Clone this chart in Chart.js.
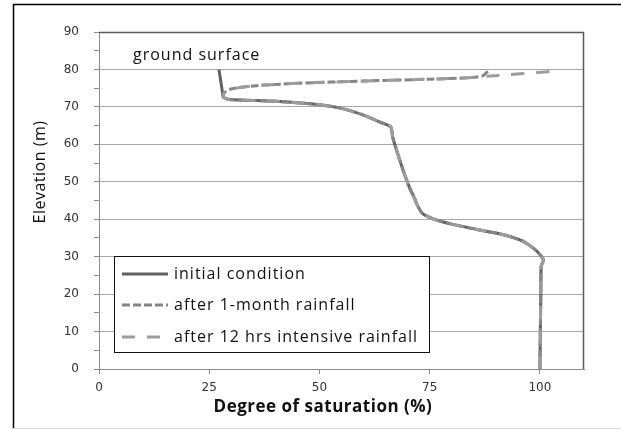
<!DOCTYPE html>
<html>
<head>
<meta charset="utf-8">
<script src="https://cdn.jsdelivr.net/npm/chart.js@4.4.1/dist/chart.umd.min.js"></script>
<style>
  html, body { margin: 0; padding: 0; background: #fff; }
  #wrap { width: 621px; height: 429px; }
</style>
</head>
<body>
<div id="wrap"><canvas id="satChart" width="621" height="429"></canvas></div>
<script>
// Saturation profiles (degree of saturation %, elevation m)
const initialSat  = [27.2, 27.6, 28.0, 28.2, 29.5, 40, 50, 55, 60, 64, 66.2, 66.6, 67.6, 69.0, 70.4, 71.6, 72.3, 73.4, 76, 80, 86, 92, 96, 98.8, 100.4, 100.8, 100.3, 100.2, 100.1, 100.0];
const initialElev = [80.0, 77.0, 74.0, 72.6, 72.0, 71.5, 70.6, 69.6, 67.8, 65.8, 64.6, 62.0, 58.0, 53.0, 48.5, 45.5, 43.5, 41.5, 40.0, 38.7, 37.2, 35.8, 34.2, 32.0, 30.0, 29.0, 27.5, 20.0, 10.0, 0.0];

const monthSat  = [100.0, 100.1, 100.2, 100.3, 100.8, 100.4, 98.8, 96, 92, 86, 80, 76, 73.4, 72.3, 71.6, 70.4, 69.0, 67.6, 66.6, 66.2, 64, 60, 55, 50, 40, 29.5, 28.2, 28.4, 30, 35, 45, 60, 75, 84, 87.0, 88.6];
const monthElev = [0.0, 10.0, 20.0, 27.5, 29.0, 30.0, 32.0, 34.2, 35.8, 37.2, 38.7, 40.0, 41.5, 43.5, 45.5, 48.5, 53.0, 58.0, 62.0, 64.6, 65.8, 67.8, 69.6, 70.6, 71.5, 72.0, 72.6, 73.8, 74.8, 75.6, 76.3, 76.9, 77.4, 77.8, 78.3, 80.0];

const rainSat  = [100.0, 100.1, 100.2, 100.3, 100.8, 100.4, 98.8, 96, 92, 86, 80, 76, 73.4, 72.3, 71.6, 70.4, 69.0, 67.6, 66.6, 66.2, 64, 60, 55, 50, 40, 29.5, 28.2, 28.4, 30, 35, 45, 60, 75, 84, 88, 93, 98, 102.5, 104.3];
const rainElev = [0.0, 10.0, 20.0, 27.5, 29.0, 30.0, 32.0, 34.2, 35.8, 37.2, 38.7, 40.0, 41.5, 43.5, 45.5, 48.5, 53.0, 58.0, 62.0, 64.6, 65.8, 67.8, 69.6, 70.6, 71.5, 72.0, 72.6, 73.8, 74.8, 75.6, 76.3, 76.9, 77.4, 77.8, 78.2, 78.6, 79.1, 79.5, 80.0];

const seriesNames = ['initial condition', 'after 1-month rainfall', 'after 12 hrs intensive rainfall'];
const xTicks = [0, 25, 50, 75, 100];
const yTicks = [0, 10, 20, 30, 40, 50, 60, 70, 80, 90];

const TEXT_FONT = '"Open Sans", "Noto Sans", sans-serif';
const TICK_FONT = { family: '"DejaVu Sans", Verdana, sans-serif', size: 12 };

function toPoints(xs, ys) {
  return xs.map((x, i) => ({ x: x, y: ys[i] }));
}

// frame, plot border, titles, annotation and legend box
const decorations = {
  id: 'decorations',
  beforeDraw(chart) {
    const ctx = chart.ctx;
    ctx.save();
    ctx.fillStyle = '#fff';
    ctx.fillRect(0, 0, chart.width, chart.height);
    ctx.strokeStyle = '#000';
    ctx.lineWidth = 1.5;
    ctx.beginPath();
    ctx.moveTo(13.5, 429);
    ctx.lineTo(13.5, 4.5);
    ctx.lineTo(621, 4.5);
    ctx.stroke();
    ctx.strokeStyle = '#d8d8d8';
    ctx.lineWidth = 1;
    ctx.beginPath();
    ctx.moveTo(13, 428.5);
    ctx.lineTo(621, 428.5);
    ctx.stroke();
    ctx.restore();
  },
  afterDraw(chart) {
    const ctx = chart.ctx;
    const a = chart.chartArea;
    const xs = chart.scales.x;
    const ys = chart.scales.y;
    ctx.save();

    // top and right edges of the plot area
    ctx.strokeStyle = '#5a5a5a';
    ctx.lineWidth = 1.5;
    ctx.beginPath();
    ctx.moveTo(a.left, a.top + 0.5);
    ctx.lineTo(a.right - 0.5, a.top + 0.5);
    ctx.lineTo(a.right - 0.5, a.bottom);
    ctx.stroke();

    // axis titles
    ctx.fillStyle = '#111';
    ctx.textAlign = 'center';
    ctx.textBaseline = 'middle';
    ctx.font = 'bold 17px ' + TEXT_FONT;
    ctx.letterSpacing = '0.5px';
    ctx.fillText('Degree of saturation (%)', 323, 407);
    ctx.save();
    ctx.translate(40, 172);
    ctx.rotate(-Math.PI / 2);
    ctx.font = '16px ' + TEXT_FONT;
    ctx.letterSpacing = '0.5px';
    ctx.fillText('Elevation (m)', 0, 0);
    ctx.restore();

    // annotation above the profile
    ctx.font = '16px ' + TEXT_FONT;
    ctx.letterSpacing = '1px';
    ctx.textAlign = 'left';
    ctx.fillStyle = '#111';
    ctx.fillText('ground surface', 133, 55);

    // legend box
    const box = { left: xs.getPixelForValue(3.4), top: ys.getPixelForValue(30.2) };
    box.right = xs.getPixelForValue(74.8);
    box.bottom = ys.getPixelForValue(4.5);
    ctx.fillStyle = '#fff';
    ctx.fillRect(box.left, box.top, box.right - box.left, box.bottom - box.top);
    ctx.strokeStyle = '#111';
    ctx.lineWidth = 1;
    ctx.strokeRect(Math.round(box.left) + 0.5, Math.round(box.top) + 0.5,
      Math.round(box.right - box.left), Math.round(box.bottom - box.top));

    const rowY = [274, 305, 337];
    chart.data.datasets.forEach((ds, i) => {
      const y = rowY[i];
      ctx.strokeStyle = ds.borderColor;
      ctx.lineWidth = ds.borderWidth;
      ctx.setLineDash(ds.borderDash || []);
      ctx.beginPath();
      ctx.moveTo(box.left + 8, y);
      ctx.lineTo(box.left + 54, y);
      ctx.stroke();
      ctx.setLineDash([]);
      ctx.fillStyle = '#111';
      ctx.font = '16px ' + TEXT_FONT;
      ctx.letterSpacing = '1px';
      ctx.textBaseline = 'middle';
      ctx.fillText(ds.label, box.left + 60, y);
    });
    ctx.restore();
  }
};

new Chart(document.getElementById('satChart'), {
  type: 'scatter',
  data: {
    datasets: [
      {
        label: seriesNames[0],
        data: toPoints(initialSat, initialElev),
        borderColor: '#616161',
        borderWidth: 3,
        order: 3
      },
      {
        label: seriesNames[1],
        data: toPoints(monthSat, monthElev),
        borderColor: '#868686',
        borderWidth: 3,
        borderDash: [8, 3],
        order: 2
      },
      {
        label: seriesNames[2],
        data: toPoints(rainSat, rainElev),
        borderColor: '#9c9c9c',
        borderWidth: 3,
        borderDash: [13, 12],
        order: 1
      }
    ]
  },
  options: {
    responsive: false,
    animation: false,
    showLine: true,
    elements: {
      point: { radius: 0, hoverRadius: 0 },
      line: { tension: 0.2, fill: false, borderCapStyle: 'butt' }
    },
    layout: { padding: { top: 32, right: 37, left: 0, bottom: 0 } },
    plugins: {
      legend: { display: false },
      tooltip: { enabled: false }
    },
    scales: {
      x: {
        type: 'linear',
        min: 0,
        max: 110,
        afterFit: scale => { scale.height = 60; },
        afterBuildTicks: scale => { scale.ticks = xTicks.map(v => ({ value: v })); },
        border: { color: '#8c8c8c', width: 1 },
        grid: { drawOnChartArea: false, tickLength: 5, tickColor: '#8c8c8c' },
        ticks: { padding: 7, color: '#333', font: TICK_FONT }
      },
      y: {
        type: 'linear',
        min: 0,
        max: 90,
        afterFit: scale => { scale.width = 99; },
        afterBuildTicks: scale => {
          const t = [];
          for (let v = 0; v <= 90; v += 5) t.push({ value: v });
          scale.ticks = t;
        },
        border: { color: '#8c8c8c', width: 1 },
        grid: {
          tickLength: 5,
          tickColor: '#8c8c8c',
          color: c => {
            const v = c.tick ? c.tick.value : 0;
            return (v % 10 === 0 && v > 0 && v < 90) ? '#a8a8a8' : 'rgba(0,0,0,0)';
          }
        },
        ticks: {
          padding: 15,
          color: '#333',
          font: TICK_FONT,
          callback: v => (yTicks.includes(v) ? v : '')
        }
      }
    }
  },
  plugins: [decorations]
});
</script>
</body>
</html>
